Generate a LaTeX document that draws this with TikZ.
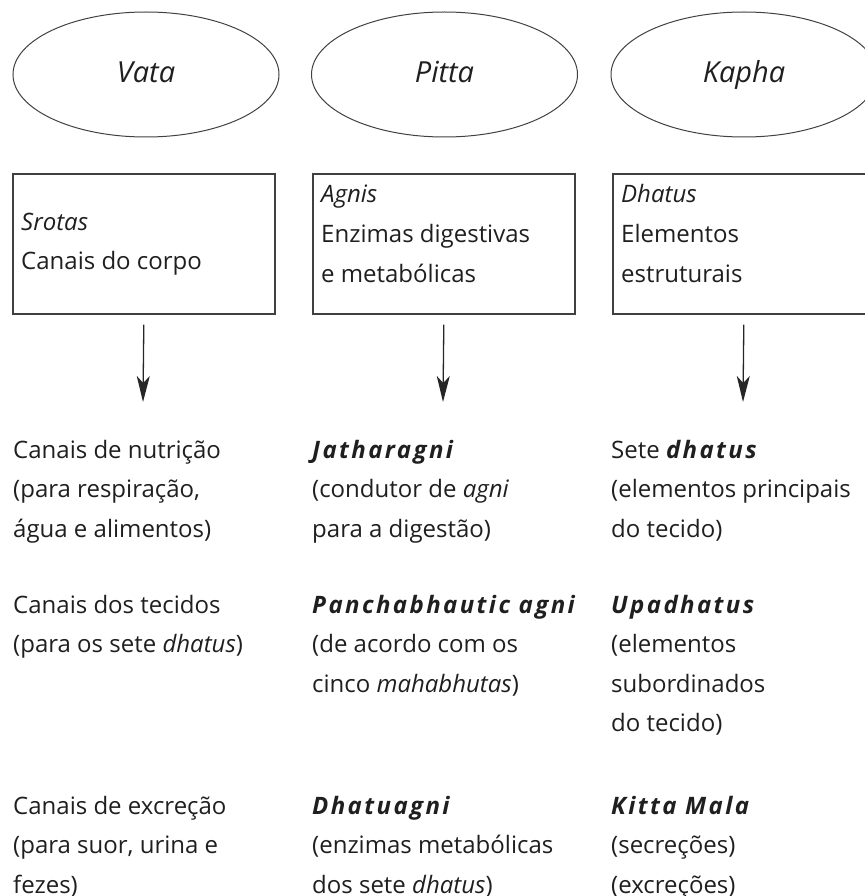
\documentclass[tikz,border=0pt]{standalone}
\usepackage{fontspec}
\setmainfont{Open Sans}
\usetikzlibrary{arrows.meta,shapes.geometric}
\newcommand{\txtblk}[1]{\begin{tabular}[t]{@{}l@{}}#1\end{tabular}}
\newcommand{\bi}[1]{{\addfontfeatures{LetterSpace=10}\bfseries\itshape #1}}
\begin{document}
\begin{tikzpicture}[x=1pt,y=-1pt,
  txt/.style={anchor=base west, inner sep=0pt, text=black!88,
    font=\fontsize{24}{39.5}\selectfont},
  oval/.style={draw=black!75, line width=1pt, ellipse, minimum width=266pt,
    minimum height=125pt, inner sep=0pt, text height=23pt, text depth=6pt,
    text=black!88, font=\fontsize{29}{36}\selectfont\itshape},
  boxnode/.style={draw=black!75, line width=1.6pt, rectangle, anchor=north west,
    minimum width=262pt, minimum height=140pt, inner sep=0pt},
  arr/.style={draw=black!85, line width=1.3pt,
    -{Stealth[length=26pt,width=13pt,inset=7pt]}}]
\useasboundingbox (0,0) rectangle (864,896);
% ellipses
\node[oval] (vata) at (146,74.5) {Vata};
\node[oval] (pitta) at (444.5,74.5) {Pitta};
\node[oval] (kapha) at (744,74.5) {Kapha};
% boxes
\node[boxnode] (vbox) at (12,173) {};
\node[boxnode] (pbox) at (312,173) {};
\node[boxnode] (kbox) at (612,173) {};
\node[txt] (vboxt) at (21,230) {\txtblk{\textit{Srotas}\\Canais do corpo}};
\node[txt] (pboxt) at (321,203) {\txtblk{\textit{Agnis}\\Enzimas digestivas\\e metabólicas}};
\node[txt] (kboxt) at (621,203) {\txtblk{\textit{Dhatus}\\Elementos\\estruturais}};
% arrows
\coordinate (vend) at (143,402);
\coordinate (pend) at (443,402);
\coordinate (kend) at (743,402);
\draw[arr] ([yshift=-10pt]vbox.south) -- (vend);
\draw[arr] ([yshift=-10pt]pbox.south) -- (pend);
\draw[arr] ([yshift=-10pt]kbox.south) -- (kend);
% lower texts
\node[txt] (v1) at (13,458) {\txtblk{Canais de nutrição\\(para respiração,\\água e alimentos)}};
\node[txt] (p1) at (312,458) {\txtblk{\bi{Jatharagni}\\(condutor de \textit{agni}\\para a digestão)}};
\node[txt] (k1) at (611,458) {\txtblk{Sete \bi{dhatus}\\(elementos principais\\do tecido)}};
\node[txt] (v2) at (13,613) {\txtblk{Canais dos tecidos\\(para os sete \textit{dhatus})}};
\node[txt] (p2) at (312,613) {\txtblk{\bi{Panchabhautic agni}\\(de acordo com os\\cinco \textit{mahabhutas})}};
\node[txt] (k2) at (611,613) {\txtblk{\bi{Upadhatus}\\(elementos\\subordinados\\do tecido)}};
\node[txt] (v3) at (13,814) {\txtblk{Canais de excreção\\(para suor, urina e\\fezes)}};
\node[txt] (p3) at (312,814) {\txtblk{\bi{Dhatuagni}\\(enzimas metabólicas\\dos sete \textit{dhatus})}};
\node[txt] (k3) at (611,814) {\txtblk{\bi{Kitta Mala}\\(secreções)\\(excreções)}};
\end{tikzpicture}
\end{document}
